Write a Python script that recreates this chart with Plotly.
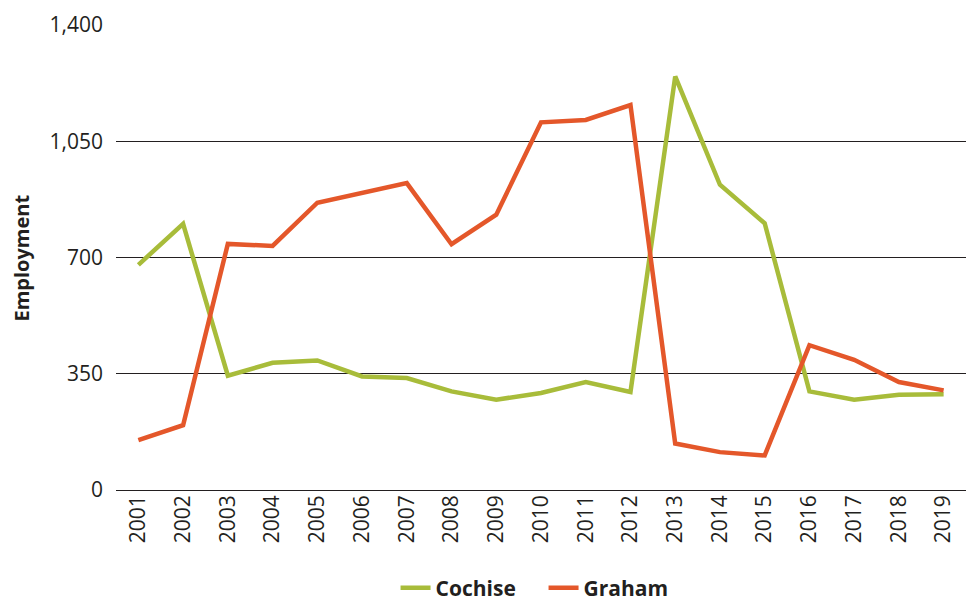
import plotly.graph_objects as go

years = [str(y) for y in range(2001, 2020)]
cochise = [678, 801, 344, 383, 390, 342, 337, 297, 272, 292, 325, 295,
           1245, 919, 803, 297, 272, 287, 288]
graham = [150, 195, 741, 735, 865, 895, 924, 740, 829, 1107, 1114, 1159,
          140, 114, 104, 436, 392, 325, 300]
y_ticks = [0, 350, 700, 1050, 1400]
y_tick_text = ["0", "350", "700", "1,050", "1,400"]

fig = go.Figure()
fig.add_trace(go.Scatter(x=years, y=cochise, name="Cochise", mode="lines",
                         line=dict(color="#A8BC3A", width=4.5)))
fig.add_trace(go.Scatter(x=years, y=graham, name="Graham", mode="lines",
                         line=dict(color="#E4572A", width=4.5)))

fig.update_layout(
    width=966, height=602,
    template="plotly_white",
    paper_bgcolor="white", plot_bgcolor="white",
    margin=dict(l=116, r=0, t=25, b=112, autoexpand=False),
    font=dict(family="Open Sans, sans-serif", size=21, color="#231f20"),
    showlegend=True,
    legend=dict(orientation="h", x=0.503, xanchor="center", y=-0.211, yanchor="middle",
                font=dict(size=21, family="Open Sans, sans-serif", weight="bold"),
                itemwidth=30, entrywidth=103, traceorder="normal"),
    annotations=[dict(text="<b>Employment</b>", xref="paper", yref="paper",
                      x=-0.1106, y=0.5, xanchor="center", yanchor="middle",
                      textangle=-90, showarrow=False, font=dict(size=20))],
)
fig.update_xaxes(type="category", range=[-0.5, 18.5], tickangle=-90,
                 showgrid=False, showline=False, ticks="", zeroline=False,
                 automargin=False, tickfont=dict(size=21))
fig.update_yaxes(range=[0, 1400], tickvals=y_ticks, ticktext=y_tick_text,
                 showgrid=True, gridcolor="#231f20", gridwidth=1,
                 zeroline=True, zerolinecolor="#231f20", zerolinewidth=1,
                 showline=False, ticks="", ticklabelstandoff=12, automargin=False,
                 tickfont=dict(size=21))

# drop the default page margin so the figure sits at the window's top-left corner
fig.write_html("out.html", config={"displayModeBar": False},
               post_script="document.body.style.margin='0';")
